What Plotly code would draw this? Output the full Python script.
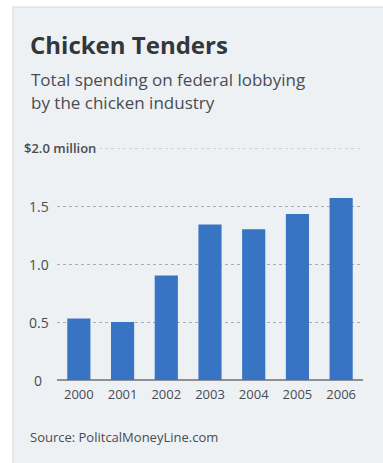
import plotly.graph_objects as go

years = ["2000", "2001", "2002", "2003", "2004", "2005", "2006"]
spending = [0.53, 0.50, 0.90, 1.34, 1.30, 1.43, 1.57]  # $ million
ytick_vals = [0, 0.5, 1.0, 1.5, 2.0]
ytick_text = ["0", "0.5", "1.0", "1.5", "$2.0 million"]

title = "Chicken Tenders"
subtitle = ["Total spending on federal lobbying", "by the chicken industry"]
source = "Source: PolitcalMoneyLine.com"

W, H = 383, 463
L, R, T, B = 57, 20, 148, 83
PW, PH = W - L - R, H - T - B
PANEL = "#eef1f4"
TXT = "#484c52"
BAR = "#3874c4"
GRID = "#a9adb3"


def px(x):
    return (x - L) / PW


def py(y):
    return (H - B - y) / PH


fig = go.Figure(go.Bar(x=years, y=spending, marker_color=BAR, marker_line_width=0))

shapes = [
    dict(type="rect", xref="paper", yref="paper", x0=px(13), x1=px(W + 5),
         y0=py(H + 5), y1=py(7), fillcolor=PANEL, line=dict(color="#d4d7db", width=1),
         layer="below"),
    dict(type="line", xref="paper", yref="y", x0=0, x1=1, y0=ytick_vals[-1],
         y1=ytick_vals[-1], line=dict(color=GRID, width=1, dash="dot"), layer="below"),
]

annotations = [
    dict(text=f"<b>{title}</b>", x=px(28), y=py(44), xref="paper", yref="paper",
         xanchor="left", yanchor="middle", showarrow=False,
         font=dict(family="Open Sans", size=24, color="#33363a")),
    dict(text=subtitle[0], x=px(29), y=py(79), xref="paper", yref="paper",
         xanchor="left", yanchor="middle", showarrow=False,
         font=dict(family="Open Sans", size=17, color=TXT)),
    dict(text=subtitle[1], x=px(29), y=py(102), xref="paper", yref="paper",
         xanchor="left", yanchor="middle", showarrow=False,
         font=dict(family="Open Sans", size=17, color=TXT)),
    dict(text=source, x=px(28), y=py(437), xref="paper", yref="paper",
         xanchor="left", yanchor="middle", showarrow=False,
         font=dict(family="Open Sans", size=13, color=TXT)),
]

for v, t in zip(ytick_vals, ytick_text):
    if v == 2.0:
        annotations.append(dict(text=t, x=px(20), y=v, xref="paper", yref="y",
                                xanchor="left", yanchor="middle", showarrow=False,
                                bgcolor=PANEL, borderpad=3,
                                font=dict(family="Open Sans", size=13, color=TXT,
                                          weight=600)))
    else:
        xr = 44 if v == 0 else 51
        annotations.append(dict(text=t, x=px(xr), y=v, xref="paper", yref="y",
                                xanchor="right", yanchor="middle", showarrow=False,
                                font=dict(family="Open Sans", size=14, color=TXT)))

fig.update_layout(
    width=W, height=H,
    margin=dict(l=L, r=R, t=T, b=B),
    paper_bgcolor="white",
    plot_bgcolor="rgba(0,0,0,0)",
    showlegend=False,
    bargap=0.47,
    shapes=shapes,
    annotations=annotations,
    xaxis=dict(showgrid=False, showline=False, ticks="", ticklabelstandoff=5,
               tickfont=dict(family="Open Sans", size=13, color=TXT)),
    yaxis=dict(range=[0, 2.0], tickvals=ytick_vals, showticklabels=False,
               showgrid=True, gridcolor=GRID, griddash="dot", gridwidth=1,
               zeroline=True, zerolinecolor="#8d9197", zerolinewidth=1.5,
               fixedrange=True),
)

fig.write_html("out.html")
